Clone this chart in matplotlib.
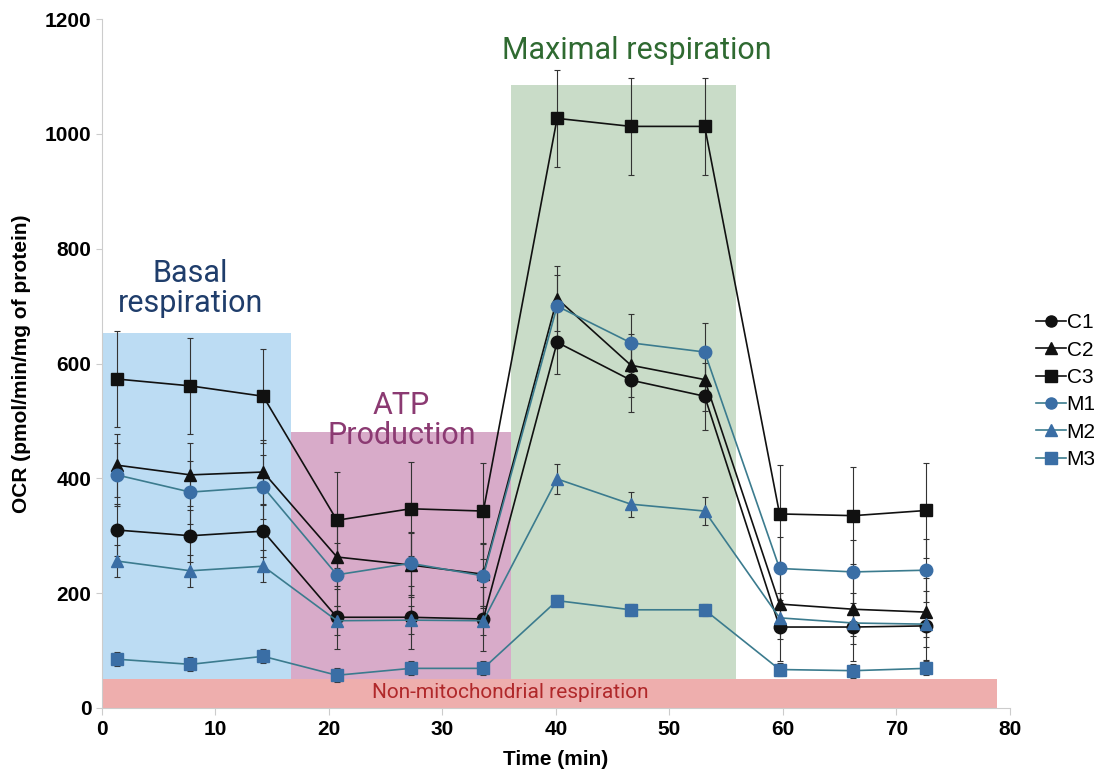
import matplotlib.pyplot as plt
from matplotlib.patches import Rectangle
from matplotlib.lines import Line2D

time = [1.3, 7.8, 14.2, 20.7, 27.2, 33.6, 40.1, 46.6, 53.1, 59.7, 66.2, 72.6]

c1 = [310, 300, 308, 158, 158, 155, 637, 571, 543, 141, 141, 143]
c2 = [423, 406, 411, 263, 249, 233, 713, 597, 572, 181, 172, 167]
c3 = [573, 561, 543, 327, 347, 343, 1027, 1013, 1013, 338, 335, 344]
m1 = [406, 376, 385, 232, 252, 230, 700, 636, 620, 243, 237, 240]
m2 = [256, 239, 247, 152, 153, 152, 399, 355, 343, 157, 148, 146]
m3 = [85, 76, 90, 57, 69, 69, 187, 171, 171, 67, 65, 69]

c1_err = [45, 45, 45, 55, 55, 55, 56, 55, 58, 60, 60, 60]
c2_err = [55, 55, 55, 55, 55, 55, 57, 55, 55, 60, 60, 60]
c3_err = [83, 84, 82, 84, 82, 83, 85, 85, 85, 85, 85, 83]
m1_err = [55, 55, 55, 55, 55, 55, 55, 50, 50, 55, 55, 55]
m2_err = [28, 28, 28, 25, 25, 25, 26, 22, 25, 22, 22, 22]
m3_err = [12, 12, 12, 12, 12, 12, 10, 10, 10, 12, 12, 12]

labels = ['C1', 'C2', 'C3', 'M1', 'M2', 'M3']

# shaded phases: (x0, x1, ymax, colour)
regions = [(0, 16.65, 653, '#bcdcf3'),
           (16.65, 36.0, 480, '#d8abc9'),
           (36.0, 55.9, 1085, '#c9dcc8')]

black = '#111111'
mblue = '#3a6ea5'
mline = '#3b7b8e'

fig = plt.figure(figsize=(10.94, 7.83), dpi=100)
ax = fig.add_axes([0.0932, 0.0958, 0.8300, 0.8799])

for x0, x1, top, col in regions:
    ax.add_patch(Rectangle((x0, 0), x1 - x0, top, color=col, lw=0, zorder=1))
ax.add_patch(Rectangle((0, 0), 78.9, 50, color='#eeaead', lw=0, zorder=1.5))

ax.text(7.8, 731, 'Basal\nrespiration', color='#1f3d6b', fontsize=22,
        family='Roboto', ha='center', va='center', linespacing=1.05)
ax.text(26.4, 500, 'ATP\nProduction', color='#8b3a72', fontsize=22,
        family='Roboto', ha='center', va='center', linespacing=1.05)
ax.text(47.1, 1146, 'Maximal respiration', color='#2f6a31', fontsize=22,
        family='Roboto', ha='center', va='center')
ax.text(36.0, 27, 'Non-mitochondrial respiration', color='#b0282a', fontsize=15,
        family='Roboto', ha='center', va='center', zorder=2)

series = [(c1, c1_err, 'o', black, black),
          (c2, c2_err, '^', black, black),
          (c3, c3_err, 's', black, black),
          (m1, m1_err, 'o', mblue, mline),
          (m2, m2_err, '^', mblue, mline),
          (m3, m3_err, 's', mblue, mline)]

handles = []
for (vals, err, mk, mc, lc), lab in zip(series, labels):
    ax.errorbar(time, vals, yerr=err, fmt='none', ecolor='#333333',
                elinewidth=0.8, capsize=2.5, capthick=0.8, zorder=3)
    ax.plot(time, vals, color=lc, lw=1.2, marker=mk, markersize=9,
            markerfacecolor=mc, markeredgecolor=mc, zorder=4)
    handles.append(Line2D([], [], color=lc, lw=1.2, marker=mk, markersize=8,
                          markerfacecolor=mc, markeredgecolor=mc, label=lab))

ax.set_xlim(0, 80)
ax.set_ylim(0, 1200)
ax.set_xticks(range(0, 81, 10))
ax.set_yticks(range(0, 1201, 200))
for lab in ax.get_xticklabels() + ax.get_yticklabels():
    lab.set_fontweight('bold')
    lab.set_family('Liberation Sans')
ax.tick_params(labelsize=15, colors='#cccccc', labelcolor='black', length=4)
ax.tick_params(axis='x', length=5)

ax.set_xlabel('Time (min)', fontsize=15, fontweight='bold', family='Liberation Sans',
              labelpad=8)
ax.set_ylabel('OCR (pmol/min/mg of protein)', fontsize=15, fontweight='bold',
              family='Liberation Sans', labelpad=10)

for side in ['top', 'right']:
    ax.spines[side].set_visible(False)
for side in ['left', 'bottom']:
    ax.spines[side].set_color('#cccccc')

leg = ax.legend(handles=handles, loc='center left', bbox_to_anchor=(1.02, 0.46),
                frameon=False, fontsize=15, handlelength=1.4, handletextpad=0.05,
                labelspacing=0.4, borderaxespad=0)
for t in leg.get_texts():
    t.set_family('Liberation Sans')

fig.savefig('out.png', dpi=100)
